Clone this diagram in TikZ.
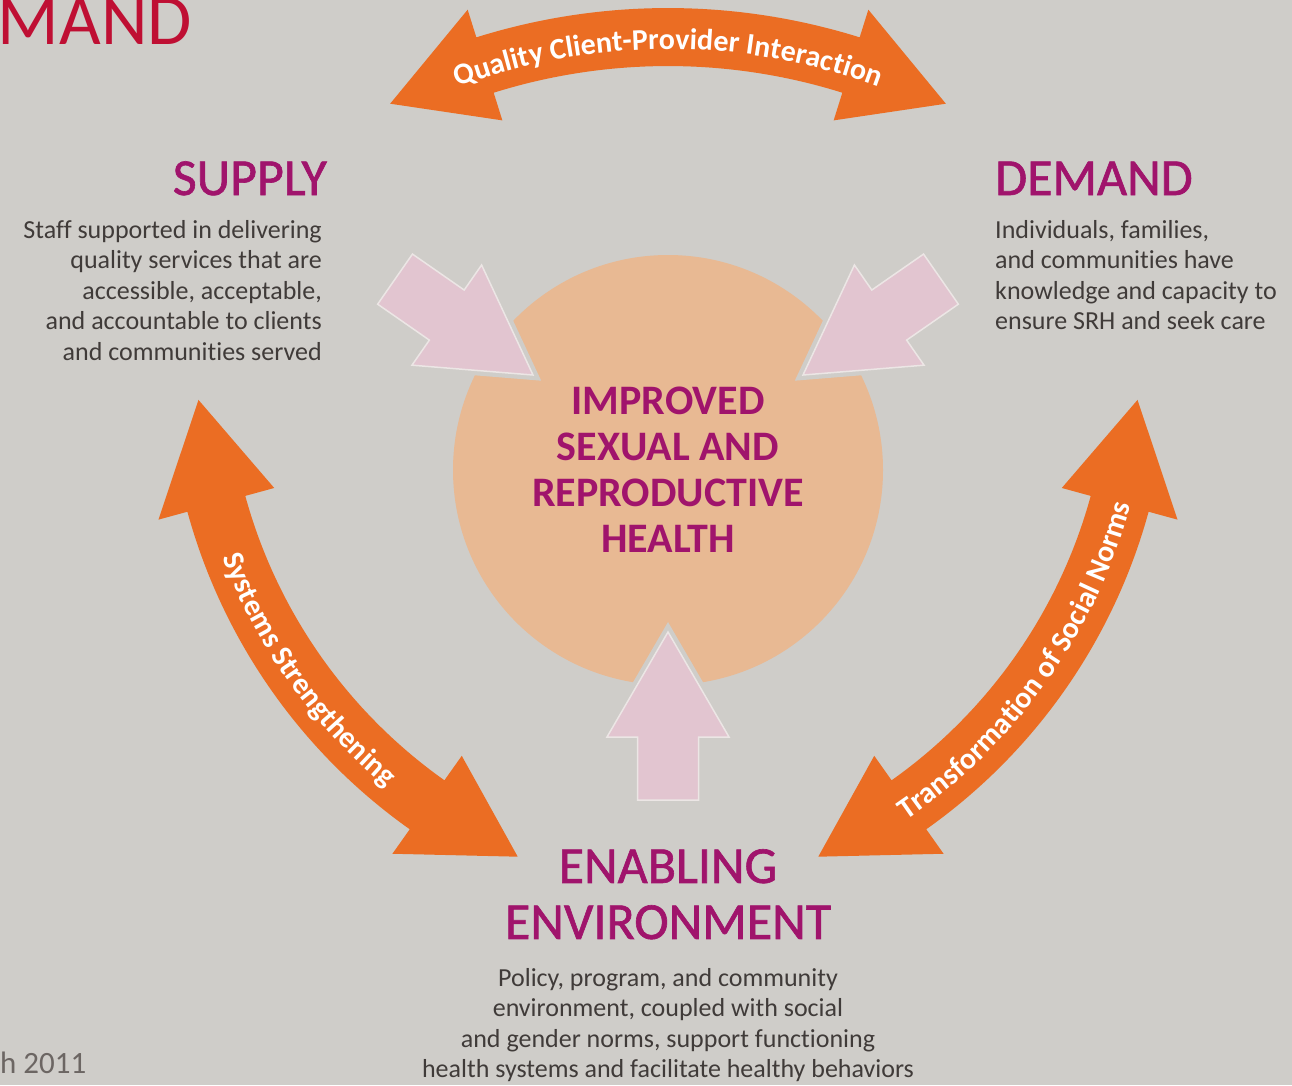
\documentclass[tikz,border=0pt]{standalone}
\usepackage{fontspec}
\setmainfont{Carlito}[Ligatures=NoCommon]
\usetikzlibrary{decorations.text}
\definecolor{slidegray}{HTML}{CFCDC9}
\definecolor{bandorange}{HTML}{EB6D23}
\definecolor{hubpeach}{HTML}{E8B993}
\definecolor{pushpink}{HTML}{E2C5D0}
\definecolor{pushedge}{HTML}{ECE6E5}
\definecolor{headpurple}{HTML}{A0146C}
\definecolor{bodygray}{HTML}{403B39}
\definecolor{titlered}{HTML}{BF0F33}
\definecolor{footgray}{HTML}{6C6663}
\tikzset{%
  % Specifications for style of shapes:
        hubdisc/.style = {circle, fill=hubpeach, minimum size=430, inner sep=0pt},
       bandarrow/.style = {fill=bandorange},
       bandlabel/.style = {decorate, decoration={text along path, text align=center,
                           text={|\color{white}\bfseries\fontsize{30}{30}\selectfont|#1}}},
  % Specifications for style of texts:
        heading/.style = {text=headpurple, font=\fontsize{52}{56}\selectfont\addfontfeature{FakeBold=1.2},
                           inner sep=0pt},
       bodytext/.style = {text=bodygray, font=\fontsize{26}{30.5}\selectfont, inner sep=0pt},
        hubtext/.style = {text=headpurple, font=\bfseries\fontsize{42}{46}\selectfont,
                           align=center, inner sep=0pt},
  % pink push arrow, tip at the origin, pointing along +x
      pusharrow/.pic = {
        \filldraw[fill=pushpink, draw=pushedge, line width=1.5,
                  preaction={draw=slidegray, line width=10}]
          (0,0) -- (-105,61) -- (-105,30.5) -- (-168,30.5) -- (-168,-30.5)
          -- (-105,-30.5) -- (-105,-61) -- cycle;
      },
}

\begin{document}
\begin{tikzpicture}[x=1pt, y=1pt]
  \useasboundingbox (0,0) rectangle (1292,-1085);
  \fill[slidegray] (0,0) rectangle (1292,-1085);

  % centre disc and the three pushes into it
  \node (hub) [hubdisc] at (668,-470) {};
  \pic[rotate=-34.8] at (533,-375) {pusharrow};
  \pic[rotate=214.8] at (803,-375) {pusharrow};
  \pic[rotate=90]    at (668,-632) {pusharrow};
  \node (hublabel) [hubtext] at (hub.center) {IMPROVED\\SEXUAL AND\\REPRODUCTIVE\\HEALTH};

  % curved double arrows
  \coordinate (topc)   at (668,-649);
  \coordinate (leftc)  at (742,-360);
  \coordinate (rightc) at (594,-360);

  \fill[bandarrow, shift={(topc)}] (107.4:641) arc[start angle=107.4, end angle=72.6, radius=641]
    -- (72.6:670) -- (63:612) -- (72.6:554) -- (72.6:583)
    arc[start angle=72.6, end angle=107.4, radius=583]
    -- (107.4:554) -- (117:612) -- (107.4:670) -- cycle;
  \path[bandlabel={Quality Client-Provider Interaction}, shift={(topc)}]
    (116:600) arc[start angle=116, end angle=64, radius=600];

  \fill[bandarrow, shift={(leftc)}] (195.3:575) arc[start angle=195.3, end angle=234.7, radius=575]
    -- (234.7:605) -- (245.7:545) -- (234.7:485) -- (234.7:515)
    arc[start angle=234.7, end angle=195.3, radius=515]
    -- (195.3:485) -- (184.2:545) -- (195.3:605) -- cycle;
  \path[bandlabel={Systems Strengthening}, shift={(leftc)}]
    (190:556) arc[start angle=190, end angle=241, radius=556];

  \fill[bandarrow, shift={(rightc)}] (-54.7:575) arc[start angle=-54.7, end angle=-15.3, radius=575]
    -- (-15.3:605) -- (-4.2:545) -- (-15.3:485) -- (-15.3:515)
    arc[start angle=-15.3, end angle=-54.7, radius=515]
    -- (-54.7:485) -- (-65.7:545) -- (-54.7:605) -- cycle;
  \path[bandlabel={Transformation of Social Norms}, shift={(rightc)}]
    (-66:556) arc[start angle=-66, end angle=-5, radius=556];

  % the three sides
  \node (supply) [heading, anchor=base east] at (327,-195) {SUPPLY};
  \node (supplytext) [bodytext, align=right, anchor=north east] at (322,-220)
    {Staff supported in delivering\\quality services that are\\accessible, acceptable,\\and accountable to clients\\and communities served};

  \node (demand) [heading, anchor=base west] at (995,-195) {DEMAND};
  \node (demandtext) [bodytext, align=left, anchor=north west] at (995,-220)
    {Individuals, families,\\and communities have\\knowledge and capacity to\\ensure SRH and seek care};

  \node (enabling) [heading, align=center, anchor=north] at (668,-849) {ENABLING\\ENVIRONMENT};
  \node (enablingtext) [bodytext, align=center, anchor=north] at (668,-968)
    {Policy, program, and community\\environment, coupled with social\\and gender norms, support functioning\\health systems and facilitate healthy behaviors};

  % slide leftovers
  \node (slidetitle) [anchor=base east, text=titlered, font=\fontsize{72}{72}\selectfont, inner sep=0pt] at (192,-44) {MAND};
  \node (slidedate) [anchor=base west, text=footgray, font=\fontsize{31}{31}\selectfont, inner sep=0pt] at (0,-1073) {h 2011};
\end{tikzpicture}
\end{document}
